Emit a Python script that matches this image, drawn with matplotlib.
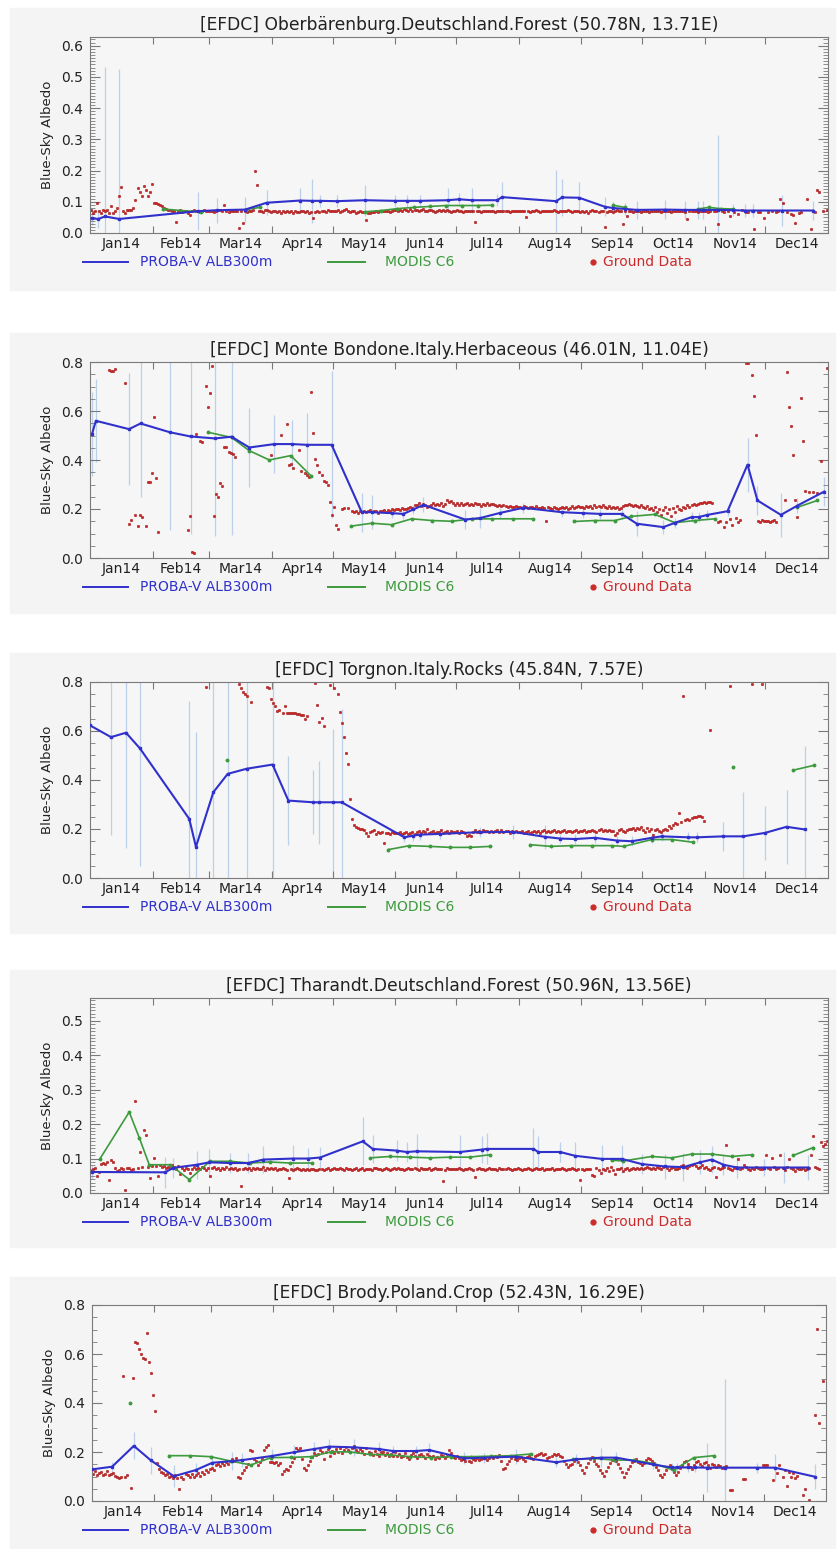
import numpy as np
import matplotlib
matplotlib.use('Agg')
import matplotlib.pyplot as plt
from matplotlib.lines import Line2D
from matplotlib.patches import Rectangle
from matplotlib.ticker import (MultipleLocator, FixedLocator, FixedFormatter,
                               NullFormatter, FormatStrFormatter)

nan = np.nan
W, H = 839, 1549

months = ['Jan14', 'Feb14', 'Mar14', 'Apr14', 'May14', 'Jun14',
          'Jul14', 'Aug14', 'Sep14', 'Oct14', 'Nov14', 'Dec14']
month_len = [31, 28, 31, 30, 31, 30, 31, 31, 30, 31, 30, 31]

titles = ['[EFDC] Oberbärenburg.Deutschland.Forest (50.78N, 13.71E)',
          '[EFDC] Monte Bondone.Italy.Herbaceous (46.01N, 11.04E)',
          '[EFDC] Torgnon.Italy.Rocks (45.84N, 7.57E)',
          '[EFDC] Tharandt.Deutschland.Forest (50.96N, 13.56E)',
          '[EFDC] Brody.Poland.Crop (52.43N, 16.29E)']

y_top = [0.628, 0.8, 0.8, 0.566, 0.8]
y_major = [0.1, 0.2, 0.2, 0.1, 0.2]
y_minor = [0.01, 0.05, 0.05, 0.01, 0.05]

# ---- PROBA-V ALB300m (day of year, albedo, error half width)
p1_days = [0.8, 4.1, 7.4, 14.5, 53.6, 62.7, 76.7, 87.4, 103.9, 109.6, 113.8, 122, 136, 150.9, 156.6, 163.2,
           177, 182.5, 189, 201.3, 203.8, 230.5, 233.5, 241.9, 254.7, 258.7, 264.6, 270.5, 284.4, 294.3,
           300.7, 303, 310.6, 318, 324, 328, 342.2, 357.6]
p1_vals = [0.047, 0.045, 0.053, 0.045, 0.07, 0.073, 0.075, 0.097, 0.104, 0.103, 0.103, 0.102, 0.105, 0.103,
           0.103, 0.103, 0.105, 0.108, 0.105, 0.105, 0.115, 0.102, 0.114, 0.113, 0.084, 0.08, 0.077, 0.074,
           0.075, 0.074, 0.074, 0.074, 0.074, 0.073, 0.072, 0.072, 0.072, 0.072]
p1_err = [0.02, 0.03, 0.48, 0.48, 0.06, 0.04, 0.04, 0.04, 0.04, 0.07, 0.02, 0.02, 0.05, 0.02, 0.02, 0.02,
          0.04, 0.02, 0.04, 0.02, 0.05, 0.1, 0.06, 0.05, 0.03, 0.02, 0.02, 0.03, 0.03, 0.03, 0.03, 0.03,
          0.24, 0.02, 0.02, 0.02, 0.05, 0.03]

p2_days = [1, 2.9, 19.3, 25, 39.6, 49.8, 61.8, 70, 78.8, 91.2, 100, 107.1, 119.5, 134.4, 139.3, 149.2,
           155, 159.9, 164.9, 185.5, 192.9, 202.8, 214.3, 233.3, 244, 252.3, 263, 270.4, 283.6, 289.4,
           297.6, 301, 305.4, 315.3, 325.2, 330.1, 341.7, 349.9, 363.1]
p2_vals = [0.506, 0.56, 0.526, 0.549, 0.513, 0.496, 0.488, 0.495, 0.451, 0.465, 0.465, 0.462, 0.462, 0.187,
           0.187, 0.183, 0.18, 0.198, 0.217, 0.157, 0.163, 0.184, 0.205, 0.187, 0.183, 0.18, 0.18, 0.14,
           0.126, 0.144, 0.167, 0.167, 0.176, 0.191, 0.381, 0.235, 0.176, 0.214, 0.271]
p2_err = [0.17, 0.17, 0.23, 0.3, 0.4, 0.4, 0.4, 0.4, 0.16, 0.12, 0.1, 0.13, 0.3, 0.08, 0.07, 0.02, 0.02,
          0.02, 0.03, 0.04, 0.04, 0.02, 0.02, 0.02, 0.02, 0.02, 0.02, 0.05, 0.03, 0.02, 0.02, 0.02, 0.02,
          0.02, 0.11, 0.06, 0.09, 0.03, 0.06]

p3_days = [0, 10.4, 17.8, 24.7, 49.1, 52.4, 61, 68.1, 77.5, 90.3, 98.1, 110.4, 113.4, 120.4, 124.5, 155.5,
           159.9, 163.2, 173.1, 192.9, 209.4, 225, 232.5, 239.9, 249.8, 260.5, 268, 277.8, 282.8, 296, 300,
           313.1, 323, 333.8, 344.5, 353.6]
p3_vals = [0.623, 0.575, 0.593, 0.529, 0.241, 0.127, 0.35, 0.425, 0.446, 0.463, 0.316, 0.309, 0.309, 0.309,
           0.309, 0.166, 0.173, 0.177, 0.18, 0.187, 0.188, 0.168, 0.161, 0.159, 0.164, 0.153, 0.15, 0.164,
           0.17, 0.166, 0.166, 0.17, 0.17, 0.184, 0.209, 0.198]
p3_err = [0.03, 0.4, 0.47, 0.48, 0.48, 0.47, 0.45, 0.45, 0.45, 0.46, 0.18, 0.13, 0.17, 0.3, 0.38, 0.02,
          0.02, 0.02, 0.02, 0.02, 0.03, 0.05, 0.02, 0.02, 0.02, 0.02, 0.02, 0.02, 0.02, 0.02, 0.02, 0.06,
          0.18, 0.11, 0.15, 0.34]

p4_days = [1.1, 37.1, 41.2, 52.8, 59, 69.3, 78.3, 85.7, 100.6, 108, 113.8, 134.9, 139.8, 151.7, 156.6,
           161.6, 183, 193.7, 196.2, 219.3, 221.7, 232.5, 239.9, 253.1, 263, 272.9, 284.4, 293.5, 301.7,
           307.5, 313.3, 319.9, 333.1, 343, 355.3]
p4_vals = [0.061, 0.06, 0.073, 0.082, 0.089, 0.087, 0.087, 0.097, 0.1, 0.1, 0.103, 0.15, 0.128, 0.123,
           0.119, 0.121, 0.119, 0.126, 0.128, 0.128, 0.119, 0.119, 0.108, 0.099, 0.099, 0.084, 0.077, 0.075,
           0.089, 0.097, 0.082, 0.074, 0.074, 0.074, 0.074]
p4_err = [0.02, 0.045, 0.03, 0.04, 0.04, 0.03, 0.03, 0.04, 0.04, 0.03, 0.03, 0.07, 0.04, 0.03, 0.03, 0.05,
          0.05, 0.04, 0.045, 0.06, 0.045, 0.03, 0.04, 0.04, 0.04, 0.03, 0.035, 0.04, 0.035, 0.04, 0.03,
          0.03, 0.025, 0.045, 0.035]

p5_days = [0, 10, 20.8, 29.1, 40.7, 51.5, 59.8, 69.8, 74.8, 89.7, 100.5, 110.4, 117.9, 130.4, 142.8, 149.5,
           161.1, 167.7, 185.1, 195.1, 210.9, 230.8, 240.8, 253.3, 260.8, 279, 288.2, 291, 296.5, 300,
           305.6, 314.7, 330.5, 339.6, 359.5]
p5_vals = [0.129, 0.14, 0.225, 0.167, 0.101, 0.126, 0.156, 0.163, 0.167, 0.184, 0.199, 0.212, 0.222, 0.219,
           0.212, 0.204, 0.204, 0.208, 0.174, 0.177, 0.181, 0.158, 0.17, 0.177, 0.177, 0.149, 0.137, 0.137,
           0.137, 0.137, 0.136, 0.136, 0.136, 0.136, 0.099]
p5_err = [0.02, 0.02, 0.055, 0.055, 0.045, 0.03, 0.03, 0.035, 0.03, 0.03, 0.03, 0.03, 0.03, 0.035, 0.03,
          0.02, 0.02, 0.03, 0.025, 0.02, 0.03, 0.02, 0.02, 0.04, 0.025, 0.02, 0.02, 0.02, 0.02, 0.02, 0.1,
          0.36, 0.02, 0.055, 0.05]

# ---- MODIS C6 (nan = gap in the line)
m1_days = [36, 45, 55, 65, 77, 84, 110, 136, 144, 152, 160, 168, 176, 184, 192, 199, 230, 258.7, 264.6,
           280, 300.7, 306, 312, 318]
m1_vals = [0.077, 0.072, 0.068, nan, 0.075, 0.082, nan, 0.068, 0.072, 0.078, 0.082, 0.085, 0.088, 0.088,
           0.088, 0.089, nan, 0.089, 0.082, nan, 0.077, 0.082, 0.078, 0.077]

m2_days = [58.5, 70, 78.8, 88.7, 99.3, 109.2, 120, 129.1, 139.3, 149.2, 159.1, 169, 178.8, 188.7, 199,
           209.3, 219.2, 230, 239.3, 249.7, 259.6, 267.8, 279.4, 289.3, 299.2, 309.1, 330, 349.9, 359.8]
m2_vals = [0.513, 0.492, 0.438, 0.4, 0.418, 0.336, nan, 0.13, 0.142, 0.136, 0.16, 0.153, 0.15, 0.159, 0.16,
           0.16, 0.16, nan, 0.149, 0.153, 0.153, 0.17, 0.178, 0.144, 0.153, 0.16, nan, 0.207, 0.235]

m3_days = [68, 100, 147.6, 158, 168.2, 178, 188, 197.9, 208, 217.7, 228, 237.9, 248.3, 258.2, 264, 277.9,
           287.8, 298.2, 308, 318, 330, 347.8, 358.1]
m3_vals = [0.48, nan, 0.116, 0.132, 0.129, 0.125, 0.125, 0.129, nan, 0.136, 0.129, 0.132, 0.132, 0.132,
           0.129, 0.157, 0.157, 0.146, nan, 0.452, nan, 0.44, 0.46]

m4_days = [4.9, 19.4, 24.4, 29.3, 39.6, 49.1, 59.3, 69.3, 79.1, 89, 98.9, 109.6, 125, 138.4, 148.3, 158.2,
           168.1, 178, 187.9, 197.8, 230, 258, 263.8, 277.8, 287.7, 297.6, 307.5, 317.4, 327.3, 337, 347.8,
           357.7]
m4_vals = [0.099, 0.235, 0.16, 0.082, 0.082, 0.039, 0.092, 0.092, 0.087, 0.09, 0.087, 0.087, nan, 0.102,
           0.106, 0.104, 0.102, 0.104, 0.104, 0.111, nan, 0.095, 0.093, 0.106, 0.102, 0.113, 0.113, 0.106,
           0.111, nan, 0.109, 0.132]

m5_days = [18.8, 30, 38.2, 48.6, 59, 69, 79, 89, 99, 109, 119, 128.5, 138.3, 148.3, 158.3, 168.5, 178.5,
           188.5, 198.5, 208.4, 218.4, 229, 239.4, 249.4, 259.4, 269.3, 279.3, 289.2, 299.3, 309.2]
m5_vals = [0.4, nan, 0.185, 0.185, 0.181, 0.163, 0.147, 0.177, 0.178, 0.181, 0.201, 0.2, 0.19, 0.188, 0.181,
           0.177, 0.181, 0.181, 0.183, 0.185, 0.192, nan, 0.17, 0.174, 0.167, 0.167, 0.153, 0.126, 0.177,
           0.185]

# ---- Ground data, daily, albedo in percent, one list per month
g1 = [
    [7.3, 6.5, 7, 9.5, 7, 6.5, 7.5, 7, 7.3, 6.5, 8.5, 6.3, 7, 8, 12, 14.8, 7, 6.5, 7.5, 7.3, 7.5, 8, 10.5, 14.5, 13, 12, 15, 13.7, 12, 13, 15.7],
    [9.7, 9.5, 9.3, 9, 8.5, 8, 7.8, 7.5, 7.5, 7.2, 7, 3.6, 7, 7.3, 6.8, 7, 7.2, 6.5, 5.7, 7, 7.3, 7, 7.2, 6.8, 7, 7.3, 7, 7.2],
    [7, 7.2, 6.8, 7, 7.3, 7.5, 7.1, 9, 7, 6.8, 7, 7.2, 6.9, 7, 1.7, 7, 3.3, 7.2, 6.8, 7, 7.1, 7.3, 20, 15.3, 7, 7.2, 6.8, 7.5, 7.3, 7, 6.8],
    [7.2, 7, 6.8, 7.1, 6.5, 7, 6.7, 7, 6.8, 7.2, 6.5, 7, 6.8, 6.6, 7, 7.2, 6.8, 7, 6.5, 6.7, 4.7, 6.8, 7, 6.6, 7.2, 7, 6.8, 7.3, 7, 6.9],
    [7, 7.2, 7.4, 6.8, 7, 7.3, 7.6, 7, 6.8, 7.2, 7, 6.5, 6.8, 7, 6.6, 6.8, 4.1, 6.5, 6.3, 6.6, 6.8, 7, 6.7, 7, 6.9, 7.1, 7, 7.2, 6.8, 7, 7.3],
    [7.5, 7.2, 7.4, 7, 7.8, 7.5, 7.2, 7.6, 7, 7.3, 7.5, 7.2, 7.4, 7.6, 7.2, 7, 7.3, 7.5, 7.2, 6.8, 7, 7.3, 7.1, 7.4, 7.2, 7.5, 7, 6.8, 7.2, 7],
    [7.3, 7, 7.2, 6.8, 7, 7.2, 7.1, 7, 6.9, 3.4, 7, 7.2, 6.8, 7, 7.1, 6.9, 7, 7.2, 7, 6.8, 7, 7.1, 7, 6.9, 7.2, 7, 6.8, 7, 7.2, 7.1, 7],
    [6.9, 7, 7.2, 5.2, 7, 6.8, 7, 7.2, 7.3, 7, 6.8, 7.1, 7, 7.2, 6.9, 7, 7.1, 7.3, 7, 6.8, 7.2, 7, 6.9, 7.1, 7.3, 7, 6.8, 7, 7.2, 7, 6.6],
    [7, 6.8, 7.2, 6.5, 7, 7.3, 6.9, 7, 6.6, 7.1, 7, 1.8, 6.8, 7, 7.2, 6.7, 7, 7.4, 7.1, 6.9, 2.8, 7, 5.3, 7.2, 7, 6.8, 6.9, 7, 7.1, 6.8],
    [7, 6.9, 7, 6.8, 7.1, 7, 6.9, 7, 7.2, 6.8, 7, 7.1, 6.9, 7, 6.8, 7, 7.2, 7, 6.9, 7, 7.1, 6.8, 4.5, 7, 6.9, 7.1, 7, 6.8, 7, 7.2, 6.9],
    [7, 6.8, 7.1, nan, 6.9, 7, 2.9, nan, 7.2, 6.8, nan, 7, 5.4, nan, 6.6, nan, 6, nan, 7.3, nan, 6.8, 6.6, nan, 7, 1.4, nan, 6.8, 6.8, nan, 4.7],
    [nan, 6.8, nan, 7, nan, 6.6, 7, 10.8, 9.7, nan, 6.8, nan, 6, 5.7, 3.3, nan, 6.5, 6.6, nan, nan, 11, nan, 1.2, nan, 6.6, 13.7, 13.2, nan, 7, nan, 7.5],
]

g2 = [
    [nan, nan, nan, nan, nan, nan, nan, nan, nan, 76.7, 76.5, 76.5, 77, nan, nan, nan, nan, 71.3, nan, 14, 15.7, nan, 17.4, 12.9, 17.4, 16.7, nan, 12.9, 31.2, 31, 34.6],
    [57.4, 32.5, 10.6, nan, nan, nan, nan, nan, nan, nan, nan, nan, nan, nan, nan, nan, nan, 11.5, 17.1, 2.4, 2, 50.7, nan, 47.9, 47.5, nan, 70.2, 61.8],
    [67.5, 78.4, 17.1, 26.2, 24.8, 30.5, 29.3, 45.2, 45.4, 43.4, 42.8, 42.4, 41.3, nan, nan, nan, nan, nan, nan, nan, nan, nan, nan, nan, nan, nan, nan, nan, nan, nan, 42],
    [nan, nan, nan, nan, 50.2, nan, nan, 54.6, 38.1, 38.5, 36.7, nan, nan, 44.2, 35.7, nan, 34.5, 34, 33, 67.8, 51.2, 40.4, 38, 35, 34, 31.6, 30.9, 30, 22.8, 17.4],
    [20.7, 13.3, 11.9, nan, 20, 20.3, nan, 20.5, nan, 19, 18.8, 19.2, 18.5, 19, 18.7, 19.3, 18.8, 19, 19.5, 18.7, 19.2, 19, 18.4, 19.3, 19.1, 19.5, 18.9, 19.6, 19.3, 19.8, 19.5],
    [19.8, 20, 19.6, 20.3, 20.1, 19.8, 20.5, 21, 20.3, 21.5, 21.8, 22.5, 21.3, 22, 21.5, 20.8, 21.2, 21.8, 22.4, 21.6, 22.2, 21.8, 22.5, 21.4, 22, 23.5, 22.8, 23.2, 22.4, 21.8],
    [22.6, 21.8, 22.3, 21.5, 22, 22.4, 21.7, 22.1, 21.6, 22.5, 21.9, 22.2, 21.4, 22, 21.7, 22.3, 21.5, 21.9, 22.2, 21.6, 21.3, 21.8, 21.1, 21.6, 21.2, 20.8, 21.4, 21, 20.7, 21.2, 20.9],
    [21, 20.6, 21.2, 20.8, 20.4, 21, 20.7, 20.5, 21.1, 20.6, 20.3, 20.9, 20.5, 15.3, 20.8, 20.4, 20.2, 20.7, 20.5, 20.1, 20.6, 20.9, 20.4, 20.8, 20.2, 20.6, 21.1, 20.5, 20.9, 21.3, 20.7],
    [21, 20.6, 21.4, 20.8, 21.2, 20.5, 21.6, 20.9, 21.3, 20.7, 21.5, 21, 20.4, 21.2, 20.6, 21, 20.3, 20.8, 20.2, 20.6, 21.3, 21.8, 21.5, 22, 21.6, 21.2, 21.8, 21.4, 20.9, 21.5],
    [21, 20.4, 21.2, 19.8, 20.6, 19.5, 21, 18.8, 20.2, 17.5, 19.4, 20.8, 18.2, 19.9, 17, 20.5, 18.8, 21.3, 20, 19.4, 21, 20.6, 21.6, 20.9, 21.8, 22, 21.5, 22.2, 22.5, 22.3, 22.8],
    [22.6, 23, 22.8, 22.5, nan, nan, 14.8, 15.2, nan, 12.6, 14.5, nan, 15.8, 13.6, nan, 16.3, 14.8, 15.6, nan, nan, 79.7, 79.5, nan, 74.6, 66, 50.2, 15.2, 14.8, 15.4, 14.9],
    [15, 15.3, 14.6, 15.1, 15.5, 14.8, nan, nan, nan, 23.5, 75.9, 61.8, 54, 42, 23.5, 16.7, nan, 65.5, 47.9, 27.5, nan, 26.8, nan, 27, nan, 26.5, nan, 39.7, nan, nan, 77.7],
]

g3 = [
    [nan] * 31,
    [nan] * 26 + [78.1, nan],
    [nan] * 14 + [79, 77.4, 75.9, 75, 74.1, nan, 71.8, nan, nan, nan, nan, nan, nan, nan, 78.1, 77.7, 73.2],
    [71.6, 70.2, 68.1, 68.5, nan, 67.5, 70, 67.5, 67.2, 67.2, 67.5, 67.2, 67, 66.8, 66.4, 66.5, 65, 66, nan, nan, nan, 79.7, 70.5, 63.6, 65.4, 62, nan, nan, 78.6, nan],
    [77.7, nan, 75.2, 67.7, 63.1, 57.5, 51.1, 46.7, 32.4, 24.1, 21.8, 20.8, 20.4, 20.1, 19.8, 19.5, 18.4, 17, 18.6, 19.2, 19.5, 18.1, 18.8, 18.5, 18.7, 14.3, 18.2, 18.5, 18, 18.7, 18.3],
    [18.5, 18.2, 18.8, 17.9, 18.4, 18.6, 17.8, 18.3, 18.9, 18.1, 18.7, 19.2, 18.4, 19, 18.6, 19.8, 18.5, 18.8, 19.3, 18.2, 18.9, 18.6, 19.4, 18.3, 18.8, 19, 18.5, 19.2, 18.7, 18.9],
    [19.1, 18.4, 19, 18.6, 18.2, 17, 17.5, 17.2, 18.8, 19.4, 18.9, 19.3, 18.7, 19.5, 19, 19.2, 18.6, 19.1, 18.8, 19.3, 19.6, 18.9, 19.4, 18.6, 19.2, 19, 18.5, 19.1, 18.7, 19.3, 18.9],
    [18.6, 19, 18.4, 18.8, 19.2, 18.5, 18.9, 19.3, 18.7, 19.1, 18.5, 19, 19.4, 18.8, 19.2, 18.6, 19, 19.5, 18.9, 19.2, 18.7, 19.1, 19.4, 18.8, 19.3, 19, 18.6, 19.2, 19.5, 18.9, 19.3],
    [19.1, 19.5, 18.8, 19.3, 19, 19.6, 19.2, 18.7, 19.4, 19.8, 19.1, 19.5, 19.2, 19.7, 19.3, 19, 17.5, 18.2, 19.4, 19.9, 19.2, 18.6, 19.6, 20.2, 19.8, 20.4, 19.5, 20.6, 20.1, 20.8],
    [19.6, 18.8, 20.3, 19.2, 19.8, 17.6, 19.4, 20.1, 19.3, 18.9, 19.6, 20.2, 19.7, 21.1, 20.5, 21.8, 22.5, 22, 26.6, 23, 74.3, 23.5, 24.1, 23.8, 24.4, 24.7, 25, 25.2, 25.5, 24.8, 23.2],
    [nan, nan, 60.6, nan, nan, nan, nan, nan, nan, nan, nan, nan, 78.4, nan, nan, nan, nan, nan, nan, nan, nan, nan, nan, 79, nan, nan, nan, nan, 79, nan],
    [nan] * 31,
]

g4 = [
    [6.5, 7, 7.2, 5, 6, 8.5, 8.7, 8.5, 9, 3.9, 9.7, 9, 7.3, 6.5, 6.8, 7.3, 7, 1, 7.2, 7.4, 6.8, 7, 26.6, 7.2, 12, 7.5, 18.2, 16.9, 7.5, 4.4, 7.8],
    [10.2, 7.8, 5, 8, 7.5, 7.8, 7.2, 7.6, 7.3, 8, 7.5, 7, 7.7, 5.5, 7.2, 6.8, 7.4, 7, 5.7, 7.1, 7.5, 6.9, 7.3, 7, 7.6, 7.2, 6.8, 7.4],
    [5, 7.2, 7.6, 7, 7.4, 6.8, 7.3, 7.1, 7.5, 6.9, 7.2, 7, 7.4, 6.8, 7.1, 2.1, 6.9, 7.3, 7, 7.2, 6.8, 7.4, 7, 7.3, 6.9, 7.1, 7.5, 6.8, 7.2, 7, 7.3],
    [7, 7.3, 6.8, 7.1, 6.9, 7.2, 7, 6.7, 4.4, 7.1, 6.8, 7, 7.2, 6.9, 6.7, 7, 6.8, 7.1, 6.6, 6.9, 7, 6.7, 6.8, 7.1, 6.9, 6.6, 7, 7.2, 6.8, 7],
    [7.2, 6.9, 7.1, 7.4, 7, 6.8, 7.2, 6.9, 7.1, 6.7, 7, 7.3, 6.8, 7, 7.2, 6.6, 6.9, 7.1, 7, 6.8, 7.2, 7.4, 6.9, 7.1, 6.7, 7, 7.3, 7.1, 6.8, 7, 7.2],
    [7, 7.3, 6.9, 7.1, 6.8, 7, 7.2, 6.9, 7.1, 7.3, 7, 6.8, 7.2, 7, 6.9, 7.1, 7.3, 6.8, 7, 7.2, 6.9, 7, 7.1, 3.6, 6.8, 7.2, 7, 6.9, 7.1, 7],
    [6.9, 7.2, 7, 6.8, 7.1, 6.9, 7.2, 7, 6.8, 4.5, 7, 7.2, 6.9, 7.1, 6.8, 7, 7.2, 6.9, 7.1, 7, 6.8, 7.2, 7, 6.9, 7.1, 7.3, 7, 6.8, 7.1, 6.9, 7.2],
    [7, 6.8, 7.1, 6.9, 7.2, 7, 6.8, 7.1, 7.3, 6.9, 7, 7.2, 6.8, 7.1, 6.9, 7, 7.2, 6.8, 7.1, 7, 6.9, 7.2, 7, 6.8, 7.1, 6.9, 7.2, 7, 6.8, 7.1, 3.9],
    [7, 6.8, 7.1, 6.9, 7, 5.2, 5, 7.2, 6.8, 5.8, 7, 6.6, 7.2, 6.4, 7.5, 6.8, 5.6, 7, 6.9, 7.3, 6.5, 7, 7.2, 6.8, 7.1, 7.4, 6.9, 7.2, 7, 7.3],
    [7, 7.3, 7.5, 7.2, 6.9, 7.4, 7.1, 7.6, 7.3, 7, 7.5, 7.8, 7.2, 6.8, 7.4, 7.6, 7.1, 6.9, 7.3, 7.7, 8, 7.5, 7.2, 7.8, 8.2, 8.5, 7.9, 7.4, 7.6, 8, 7.2],
    [7.5, 7, 6.8, 7.3, 7.6, 4.5, 7.2, 6.9, 7.3, 7.5, 14, 7.4, 7, 6.8, 7.2, 7.6, 10, 7, 7.3, 8, 7.5, 7.1, 6.8, 7.2, 7, 7.5, 7.3, 6.9, 7.1, 7.4],
    [11.1, 7.2, 6.9, 10.3, 7.5, 7, 7.3, 11, 7.2, 6.8, 7.5, 9.8, 7.2, 7, 6.5, 7.3, 7.1, 6.9, 7.4, 6.7, 7, 7.2, 11.1, 16.4, 7.5, 7.3, 7, 14.7, 13.5, 14.2, 15],
]

g5 = [
    [11, 12.3, 10.5, 11.5, 12, 10.8, 11.2, 12.2, 10.5, 11, 11.5, 10.2, 9.8, 9.5, 10, 51.2, 10, 10.5, nan, 5.3, 50.3, 64.9, 64.4, 61.9, 59.9, 58.5, 57.8, 68.4, 56.8, 52.3, 43.4],
    [36.6, 15.6, 13, 12, 11.5, 10.5, 11, 9.8, 10.2, 9.2, 10.5, 9.5, 4.7, 10, 9, 11, 10.5, 9.6, 11.2, 10, 10.8, 11.5, 10.2, 12, 11, 12.5, 11.8, 13],
    [13.5, 12.8, 14.5, 15, 14.2, 15.5, 14.8, 16, 15.2, 16.5, 17.2, 16.4, 17.5, 9.9, 9.2, 11.5, 12.5, 14, 15.2, 20.8, 20.5, 17, 16.2, 14.5, 15.8, 17.2, 21, 22.2, 22.8, 16, 15.8],
    [15.5, 16, 14.8, 15.4, 11.2, 12.3, 13, 12.5, 14.2, 16, 17.5, 21.5, 20.8, 21.8, 17.2, 13.3, 12.6, 14.5, 16.5, 18, 19.5, 18.8, 19.2, 21, 20.2, 17, 19.8, 21.2, 18.5, 20.5],
    [19.5, 21.2, 20, 21.8, 19.5, 20.8, 22, 21, 20.2, 21.5, 22.5, 20.8, 19.8, 21.2, 20.5, 19, 21.8, 20.2, 19.5, 18.8, 20.5, 19.2, 18.5, 19.8, 20.2, 18.6, 19.5, 18.2, 19, 18.5, 19.8],
    [18.5, 19.2, 17.8, 18.4, 19.5, 18, 17.2, 18.8, 19.6, 18.2, 17.5, 18.8, 19.2, 18.5, 17.4, 19, 18.2, 17.8, 18.5, 17.2, 18, 17.5, 18.8, 18.2, 17.4, 18.5, 20.8, 19.5, 18, 17.6],
    [18.2, 17.5, 16.8, 17.2, 16.5, 17.8, 16.4, 16, 17, 16.6, 17.5, 16.9, 17.2, 18, 17.5, 16.8, 17.4, 18.2, 17.6, 18.4, 17.8, 18.6, 16.5, 12.9, 13.5, 15, 16.2, 17.5, 18.4, 17.2, 16.8],
    [17.5, 18, 17.2, 16.5, 17.8, 18.5, 17.4, 17, 18.2, 18.8, 19, 19.5, 18.6, 19.2, 17.5, 17.8, 18.4, 19.2, 18.6, 19, 18.5, 17.8, 16.4, 15, 14, 14.5, 15.2, 16.5, 17.2, 16, 14.5],
    [12.5, 11.5, 13.8, 15.5, 17, 17.8, 16.5, 15.2, 14.2, 12.8, 11.5, 10.2, 12.2, 13.8, 15.5, 16.8, 17.5, 16.2, 15, 13.5, 11.8, 10, 11.5, 13, 14.2, 15.8, 16.5, 17.2, 16, 15.5],
    [14.8, 15.5, 16.8, 17.5, 17, 16.2, 15.5, 14, 12.5, 10.8, 10, 11.2, 12.5, 13.8, 14.5, 13.2, 12, 10.5, 11.8, 13.5, 14.8, 15.8, 16.5, 15.2, 14, 13.2, 14.5, 15.8, 16.5, 15, 14.2],
    [15.5, 16, 14.8, 13.5, 15.2, 14.6, 13.8, 14.5, 14.2, 13.6, 14, 14.4, nan, 4.4, 4.4, nan, nan, nan, nan, 8.8, 8.8, nan, nan, nan, nan, nan, nan, nan, nan, 14.7],
    [14.7, 14.5, nan, nan, 8.5, nan, 11.5, 14.5, nan, 9.9, 12.5, 6, 12, 10, 11.5, 9.5, 10.2, nan, nan, 2.3, 5.1, nan, 0.5, nan, nan, 35.2, 70.1, 31.8, nan, 48.9, nan],
]

proba = [(p1_days, p1_vals, p1_err), (p2_days, p2_vals, p2_err), (p3_days, p3_vals, p3_err),
         (p4_days, p4_vals, p4_err), (p5_days, p5_vals, p5_err)]
modis = [(m1_days, m1_vals), (m2_days, m2_vals), (m3_days, m3_vals), (m4_days, m4_vals), (m5_days, m5_vals)]
ground = [g1, g2, g3, g4, g5]

# layout in pixels: gray panel boxes and axes boxes (x0, y0, x1, y1)
panel_box = [(10, 8, 835, 290), (10, 333, 835, 613), (10, 653, 835, 933),
             (10, 970, 835, 1247), (10, 1277, 835, 1549)]
axes_box = [(90, 37, 828, 233), (90, 362, 828, 558), (90, 682, 828, 878),
            (90, 998, 828, 1193), (92, 1305, 826, 1501)]

blue = '#3030cc'
green = '#3d9a3d'
red = '#cc2b2b'
errc = '#bcd0ec'
gray = '#7a7a7a'

plt.rcParams['font.family'] = 'DejaVu Sans'
fig = plt.figure(figsize=(W / 100, H / 100), dpi=100)

starts = np.concatenate([[0], np.cumsum(month_len)[:-1]])
mids = starts + np.array(month_len) / 2.0


def ground_series(month_vals):
    d, v = [], []
    for s, vals in zip(starts, month_vals):
        d.extend(s + np.arange(len(vals)) + 0.5)
        v.extend(vals)
    return np.array(d), np.array(v, float) / 100.0


for i in range(5):
    bx0, by0, bx1, by1 = panel_box[i]
    fig.add_artist(Rectangle((bx0 / W, 1 - by1 / H), (bx1 - bx0) / W, (by1 - by0) / H,
                             transform=fig.transFigure, color='#f4f4f4', zorder=-5))
    x0, y0, x1, y1 = axes_box[i]
    ax = fig.add_axes([x0 / W, 1 - y1 / H, (x1 - x0) / W, (y1 - y0) / H])
    ax.set_facecolor('#f6f6f6')

    pd_, pv, pe = (np.array(a, float) for a in proba[i])
    ax.vlines(pd_, pv - pe, pv + pe, colors=errc, lw=0.9, zorder=1)
    gd, gv = ground_series(ground[i])
    ax.plot(gd, gv, ls='none', marker='o', ms=1.9, color=red, mec='#a01818', mew=0.3, zorder=2)
    md, mv = modis[i]
    ax.plot(md, mv, color=green, lw=1.2, marker='o', ms=1.8, zorder=3)
    ax.plot(pd_, pv, color=blue, lw=1.5, marker='s', ms=1.9, zorder=4)

    ax.set_xlim(0, 365)
    ax.set_ylim(0, y_top[i])
    ax.xaxis.set_major_locator(FixedLocator(starts[1:]))
    ax.xaxis.set_major_formatter(NullFormatter())
    ax.xaxis.set_minor_locator(FixedLocator(mids))
    ax.xaxis.set_minor_formatter(FixedFormatter(months))
    ax.tick_params(axis='x', which='major', direction='in', length=5, top=True, bottom=True, color=gray)
    ax.tick_params(axis='x', which='minor', length=0, pad=3, labelsize=10, labelcolor='#222222')
    ax.yaxis.set_major_locator(MultipleLocator(y_major[i]))
    ax.yaxis.set_minor_locator(MultipleLocator(y_minor[i]))
    ax.yaxis.set_major_formatter(FormatStrFormatter('%.1f'))
    ax.tick_params(axis='y', which='both', direction='in', left=True, right=True, color=gray)
    ax.tick_params(axis='y', which='major', length=7, labelsize=10, pad=5, labelcolor='#222222')
    ax.tick_params(axis='y', which='minor', length=3.5)
    for sp in ax.spines.values():
        sp.set_color(gray)

    ax.set_title(titles[i], fontsize=12.3, pad=5, color='#222222')
    ax.set_ylabel('Blue-Sky Albedo', fontsize=9.5, color='#222222')
    ax.yaxis.set_label_coords(-0.049, 0.5)

    # legend row under the axes
    ly = 1 - (y1 + 29) / H
    fig.add_artist(Line2D([83 / W, 128 / W], [ly, ly], color=blue, lw=1.4))
    fig.text(140 / W, ly, 'PROBA-V ALB300m', color=blue, fontsize=10, va='center')
    fig.add_artist(Line2D([328 / W, 365 / W], [ly, ly], color=green, lw=1.4))
    fig.text(385 / W, ly, 'MODIS C6', color=green, fontsize=10, va='center')
    fig.add_artist(Line2D([593 / W], [ly], color=red, marker='o', ms=3.5, ls='none'))
    fig.text(603 / W, ly, 'Ground Data', color=red, fontsize=10, va='center')

fig.savefig('out.png', dpi=100, facecolor='white')
